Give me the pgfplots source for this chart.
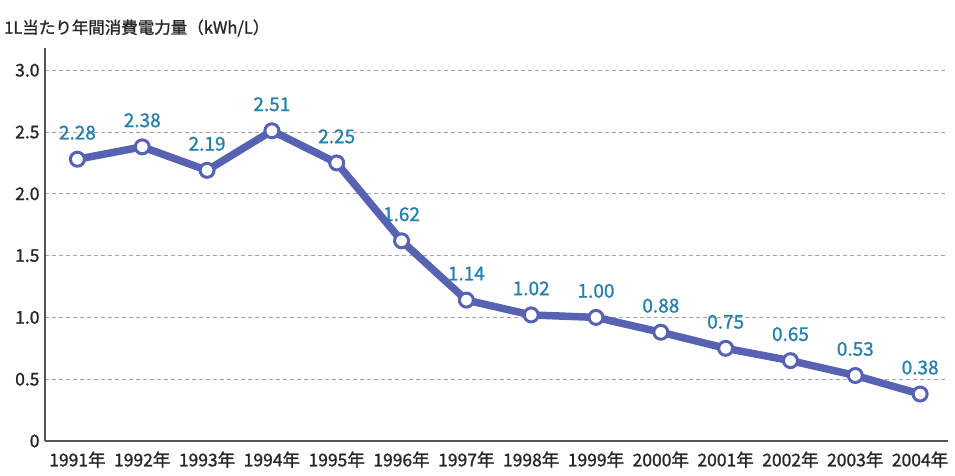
\documentclass[border=0pt]{standalone}
\usepackage{pgfplots}
\pgfplotsset{compat=1.18}
\usepackage{fontspec}
\setmainfont{Noto Sans CJK JP}
\newfontfamily\medfont{Noto Sans CJK JP}[FakeBold=1.2]
\definecolor{linec}{RGB}{88,98,178}
\definecolor{labc}{RGB}{38,128,170}
\definecolor{axc}{RGB}{85,85,85}
\definecolor{gridc}{RGB}{165,165,165}
\begin{document}
\begin{tikzpicture}[x=1pt,y=1pt]
\useasboundingbox (0,0) rectangle (955,476);
\node[anchor=west,font=\fontsize{16.5}{16.5}\selectfont\medfont,text=black!85,inner sep=0] at (4,448) {1L当たり年間消費電力量（kWh/L）};
\begin{axis}[
  at={(45pt,35pt)}, anchor=south west,
  scale only axis, width=903pt, height=393pt,
  xmin=1990.5, xmax=2004.43, ymin=0, ymax=3.18,
  axis x line=bottom, axis y line=left,
  axis line style={-, line width=2.5pt, draw=axc},
  major tick length=0pt,
  xtick={1991,...,2004},
  xticklabels={1991年,1992年,1993年,1994年,1995年,1996年,1997年,1998年,1999年,2000年,2001年,2002年,2003年,2004年},
  ytick={0,0.5,1,1.5,2,2.5,3},
  yticklabels={0,0.5,1.0,1.5,2.0,2.5,3.0},
  /pgf/number format/assume math mode=true,
  x tick label style={font=\fontsize{17.5}{17.5}\selectfont\medfont, text=black!85, yshift=-7pt},
  y tick label style={font=\fontsize{17.5}{17.5}\selectfont\medfont, text=black!85, xshift=-2pt},
  ymajorgrids, grid style={dashed, gridc, line width=0.8pt, dash pattern=on 4pt off 3pt},
  clip=false,
]
\addplot[linec, line width=7.5pt, line join=round,
  mark=*, mark size=7pt, mark options={fill=white, draw=linec, line width=3pt},
  nodes near coords={\pgfmathprintnumber[fixed,precision=2,zerofill]{\pgfplotspointmeta}},
  every node near coord/.style={font=\fontsize{19}{19}\selectfont\medfont, text=labc, anchor=south, inner sep=0pt, yshift=18pt},
  point meta=y]
coordinates {
(1991,2.28) (1992,2.38) (1993,2.19) (1994,2.51) (1995,2.25) (1996,1.62) (1997,1.14)
(1998,1.02) (1999,1.00) (2000,0.88) (2001,0.75) (2002,0.65) (2003,0.53) (2004,0.38)
};
\end{axis}
\end{tikzpicture}
\end{document}
